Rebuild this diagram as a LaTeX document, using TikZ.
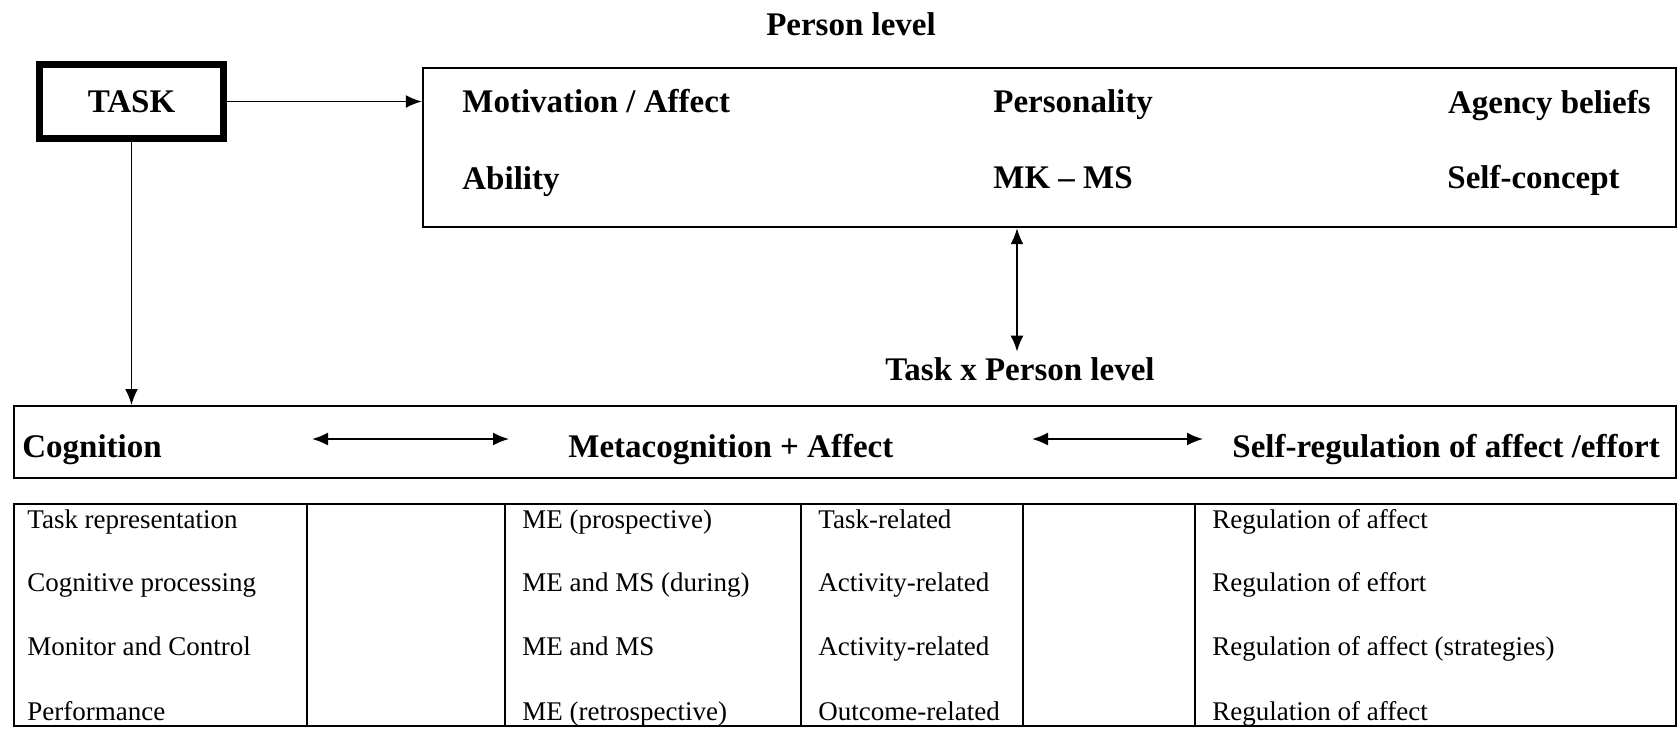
\documentclass[tikz,border=0pt]{standalone}
\usepackage{fontspec}
\setmainfont{Liberation Serif}
\usetikzlibrary{arrows.meta,positioning}

\begin{document}
\begin{tikzpicture}[
  x=0.5pt, y=-0.5pt,
  every node/.style={inner sep=0pt},
  head/.style={font=\fontsize{16.5}{20}\selectfont\bfseries, text height=10.9pt, text depth=0pt},
  cell/.style={font=\fontsize{13.5}{16}\selectfont, text height=8.9pt, text depth=0pt, anchor=west},
  frame/.style={draw, line width=1.2pt},
  rule/.style={line width=1pt},
  conn/.style={draw, line width=0.9pt, -{Latex[length=8pt,width=6.5pt]}},
  twoway/.style={draw, line width=0.9pt, {Latex[length=8pt,width=6.5pt]}-{Latex[length=8pt,width=6.5pt]}}
  ]
\useasboundingbox (0,0) rectangle (1679,729);

% person level
\node[head] (personlvl) at (851,25) {Person level};
\node[head, frame, line width=3.5pt, minimum width=92pt, minimum height=37pt] (task) at (131.5,101.5) {TASK};
\node[frame, minimum width=626.5pt, minimum height=79.5pt] (person) at (1049.5,147.5) {};
\node[head, anchor=west] (motiv) at (462,102) {Motivation / Affect};
\node[head, anchor=west] (ability) at (462,179) {Ability};
\node[head, anchor=west] (personality) at (993,102) {Personality};
\node[head, anchor=west] (mkms) at (993,178) {MK -- MS};
\node[head, anchor=east] (agency) at (1651,103) {Agency beliefs};
\node[head, anchor=west] (selfconc) at (1447,178) {Self-concept};

% task x person level
\node[head, anchor=west] (tplvl) at (885,370) {Task x Person level};
\node[frame, minimum width=830.8pt, minimum height=35.8pt] (tpbox) at (845,442) {};
\node[head, anchor=west] (cog) at (22,447) {Cognition};
\node[head, anchor=west] (meta) at (568,447) {Metacognition + Affect};
\node[head, anchor=west] (selfreg) at (1232,447) {Self-regulation of affect /effort};

\coordinate (pivot) at (1017,0);
\coordinate (a1l) at (312,439);
\coordinate (a1r) at (509,439);
\coordinate (a2l) at (1032,439);
\coordinate (a2r) at (1203,439);

\draw[conn] (task.east) -- (task.east -| person.west);
\draw[conn] (task.south) -- (task.south |- tpbox.north);
\draw[twoway] (person.south -| pivot) -- ([yshift=3.5pt]tplvl.north -| pivot);
\draw[twoway] (a1l) -- (a1r);
\draw[twoway] (a2l) -- (a2r);

% table
\node[frame, minimum width=830.8pt, minimum height=110.8pt] (table) at (845,615) {};
\draw[rule] (307,503) -- (307,727);
\draw[rule] (505,503) -- (505,727);
\draw[rule] (801,503) -- (801,727);
\draw[rule] (1023,503) -- (1023,727);
\draw[rule] (1195,503) -- (1195,727);

\node[cell] (c11) at (27,520) {Task representation};
\node[cell] (c12) at (27,583) {Cognitive processing};
\node[cell] (c13) at (27,647) {Monitor and Control};
\node[cell] (c14) at (27,712) {Performance};

\node[cell] (c31) at (522,520) {ME (prospective)};
\node[cell] (c32) at (522,583) {ME and MS (during)};
\node[cell] (c33) at (522,647) {ME and MS};
\node[cell] (c34) at (522,712) {ME (retrospective)};

\node[cell] (c41) at (818,520) {Task-related};
\node[cell] (c42) at (818,583) {Activity-related};
\node[cell] (c43) at (818,647) {Activity-related};
\node[cell] (c44) at (818,712) {Outcome-related};

\node[cell] (c61) at (1212,520) {Regulation of affect};
\node[cell] (c62) at (1212,583) {Regulation of effort};
\node[cell] (c63) at (1212,647) {Regulation of affect (strategies)};
\node[cell] (c64) at (1212,712) {Regulation of affect};

\end{tikzpicture}
\end{document}
